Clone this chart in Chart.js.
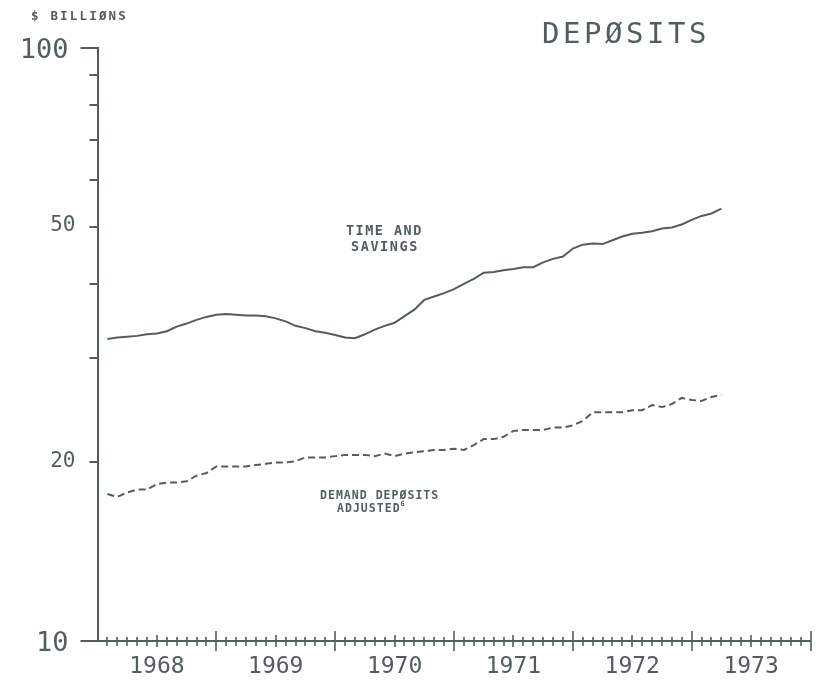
<!DOCTYPE html>
<html>
<head>
<meta charset="utf-8">
<script src="https://cdn.jsdelivr.net/npm/chart.js@4.4.0/dist/chart.umd.min.js"></script>
<style>
html,body{margin:0;padding:0;background:#ffffff;}
#wrap{width:823px;height:680px;}
</style>
</head>
<body>
<div id="wrap"><canvas id="c" width="823" height="680"></canvas></div>
<script>
// ---- data ----
const months = [
  '1968-01','1968-02','1968-03','1968-04','1968-05','1968-06','1968-07','1968-08','1968-09','1968-10','1968-11','1968-12',
  '1969-01','1969-02','1969-03','1969-04','1969-05','1969-06','1969-07','1969-08','1969-09','1969-10','1969-11','1969-12',
  '1970-01','1970-02','1970-03','1970-04','1970-05','1970-06','1970-07','1970-08','1970-09','1970-10','1970-11','1970-12',
  '1971-01','1971-02','1971-03','1971-04','1971-05','1971-06','1971-07','1971-08','1971-09','1971-10','1971-11','1971-12',
  '1972-01','1972-02','1972-03','1972-04','1972-05','1972-06','1972-07','1972-08','1972-09','1972-10','1972-11','1972-12',
  '1973-01','1973-02','1973-03'
];
const timeSavings = [
  32.3,32.5,32.6,32.7,32.9,33.0,33.3,33.9,34.3,34.8,35.2,35.5,
  35.6,35.5,35.4,35.4,35.3,35.0,34.6,34.0,33.7,33.3,33.1,32.8,
  32.5,32.4,32.9,33.5,34.0,34.4,35.3,36.2,37.6,38.1,38.6,39.2,
  40.0,40.8,41.8,41.9,42.2,42.4,42.7,42.7,43.5,44.1,44.5,45.9,
  46.6,46.8,46.7,47.4,48.1,48.6,48.8,49.1,49.6,49.8,50.4,51.3,
  52.1,52.6,53.6
];
const demandDeposits = [
  17.7,17.5,17.8,18.0,18.0,18.4,18.5,18.5,18.6,19.0,19.2,19.7,
  19.7,19.7,19.7,19.8,19.9,20.0,20.0,20.1,20.4,20.4,20.4,20.5,
  20.6,20.6,20.6,20.5,20.7,20.5,20.7,20.8,20.9,21.0,21.0,21.1,
  21.0,21.4,21.9,21.9,22.1,22.6,22.7,22.7,22.7,22.9,22.9,23.1,
  23.5,24.3,24.3,24.3,24.3,24.5,24.5,25.0,24.8,25.1,25.7,25.5,
  25.4,25.8,26.0
];
const yearLabels = ['1968','1969','1970','1971','1972','1973'];
const yMajorLabels = [10, 100];
const yMinorLabels = [20, 50];
const yTickValues = [10,20,30,40,50,60,70,80,90,100];

// ---- helpers ----
const INK = '#535d60';
const MONO = '"DejaVu Sans Mono", monospace';
function monthToX(m) {
  const [y, mo] = m.split('-').map(Number);
  return y + mo / 12;
}
const tsPoints = months.map((m, i) => ({x: monthToX(m), y: timeSavings[i]}));
const ddPoints = months.map((m, i) => ({x: monthToX(m), y: demandDeposits[i]}));

function spaced(ctx, text, x, y, adv) {
  let cx = x;
  for (const ch of text) { ctx.fillText(ch, cx, y); cx += adv; }
  return cx;
}

const decor = {
  id: 'decor',
  afterDraw(chart) {
    const ctx = chart.ctx, xs = chart.scales.x, ys = chart.scales.y, ca = chart.chartArea;
    ctx.save();
    ctx.strokeStyle = INK;
    ctx.lineWidth = 2;
    ctx.lineCap = 'butt';
    // y-axis tick marks
    yTickValues.forEach(v => {
      const py = Math.round(ys.getPixelForValue(v));
      const len = (v === 10 || v === 100) ? 17 : 8;
      ctx.beginPath();
      ctx.moveTo(ca.left - len, py);
      ctx.lineTo(ca.left, py);
      ctx.stroke();
    });
    // smaller y labels (20, 50)
    ctx.fillStyle = INK;
    ctx.font = '21px ' + MONO;
    ctx.textAlign = 'right';
    ctx.textBaseline = 'middle';
    yMinorLabels.forEach(v => {
      ctx.fillText(String(v), ca.left - 22, ys.getPixelForValue(v) - 1);
    });
    // x-axis tick marks (monthly, half-year, year)
    const y0 = ca.bottom;
    ctx.lineWidth = 1.6;
    for (let k = 1; k <= 72; k++) {
      const px = Math.round(xs.getPixelForValue(1968 + k / 12));
      let up, down;
      if (k % 12 === 0) { up = 10; down = 10; }
      else if (k % 6 === 0) { up = 6; down = 6; }
      else { up = 4; down = 5; }
      ctx.beginPath();
      ctx.moveTo(px, y0 - up);
      ctx.lineTo(px, y0 + down);
      ctx.stroke();
    }
    // texts
    ctx.textAlign = 'left';
    ctx.textBaseline = 'alphabetic';
    ctx.font = '29px ' + MONO;
    spaced(ctx, 'DEPØSITS', 542, 43, 21);
    ctx.font = 'bold 12.5px ' + MONO;
    spaced(ctx, '$ BILLIØNS', 31, 20, 9.7);
    ctx.font = 'bold 13.5px ' + MONO;
    spaced(ctx, 'TIME AND', 346, 234.5, 9.6);
    spaced(ctx, 'SAVINGS', 351, 250.5, 9.7);
    ctx.font = 'bold 11.5px ' + MONO;
    spaced(ctx, 'DEMAND DEPØSITS', 320, 498.5, 7.95);
    const ex = spaced(ctx, 'ADJUSTED', 337, 512, 7.95);
    ctx.font = 'bold 7px ' + MONO;
    ctx.fillText('6', ex, 506);
    ctx.restore();
  }
};

new Chart(document.getElementById('c'), {
  type: 'line',
  data: {
    datasets: [
      {
        label: 'Time and savings',
        data: tsPoints,
        yAxisID: 'y',
        borderColor: INK,
        borderWidth: 2,
        pointRadius: 0,
        tension: 0,
        fill: false
      },
      {
        label: 'Demand deposits adjusted',
        data: ddPoints,
        yAxisID: 'y',
        borderColor: INK,
        borderWidth: 2,
        borderDash: [7, 4],
        pointRadius: 0,
        tension: 0,
        fill: false
      }
    ]
  },
  options: {
    responsive: false,
    animation: false,
    layout: { padding: { top: 48, right: 12.5, left: 0, bottom: 0 } },
    plugins: { legend: { display: false }, tooltip: { enabled: false }, title: { display: false } },
    scales: {
      x: {
        type: 'linear', min: 1968, max: 1974, position: 'bottom',
        grid: { display: false, drawTicks: false },
        border: { display: true, color: INK, width: 2 },
        afterBuildTicks: s => { s.ticks = yearLabels.map(y => ({ value: Number(y) + 0.5 })); },
        afterFit: s => { s.height = 39; s.paddingLeft = 0; s.paddingRight = 0; },
        ticks: {
          autoSkip: false, maxRotation: 0, padding: 12, color: INK,
          font: { family: MONO, size: 23 },
          callback: v => yearLabels[Math.floor(v) - 1968]
        }
      },
      y: {
        type: 'logarithmic', min: 10, max: 100, position: 'left',
        grid: { display: false, drawTicks: false },
        border: { display: true, color: INK, width: 2 },
        afterBuildTicks: s => { s.ticks = yMajorLabels.map(v => ({ value: v })); },
        afterFit: s => { s.width = 97.5; s.paddingTop = 0; s.paddingBottom = 0; },
        ticks: { padding: 29, labelOffset: 3, color: INK, font: { family: MONO, size: 27 }, callback: v => String(v) }
      }
    }
  },
  plugins: [decor]
});
</script>
</body>
</html>
